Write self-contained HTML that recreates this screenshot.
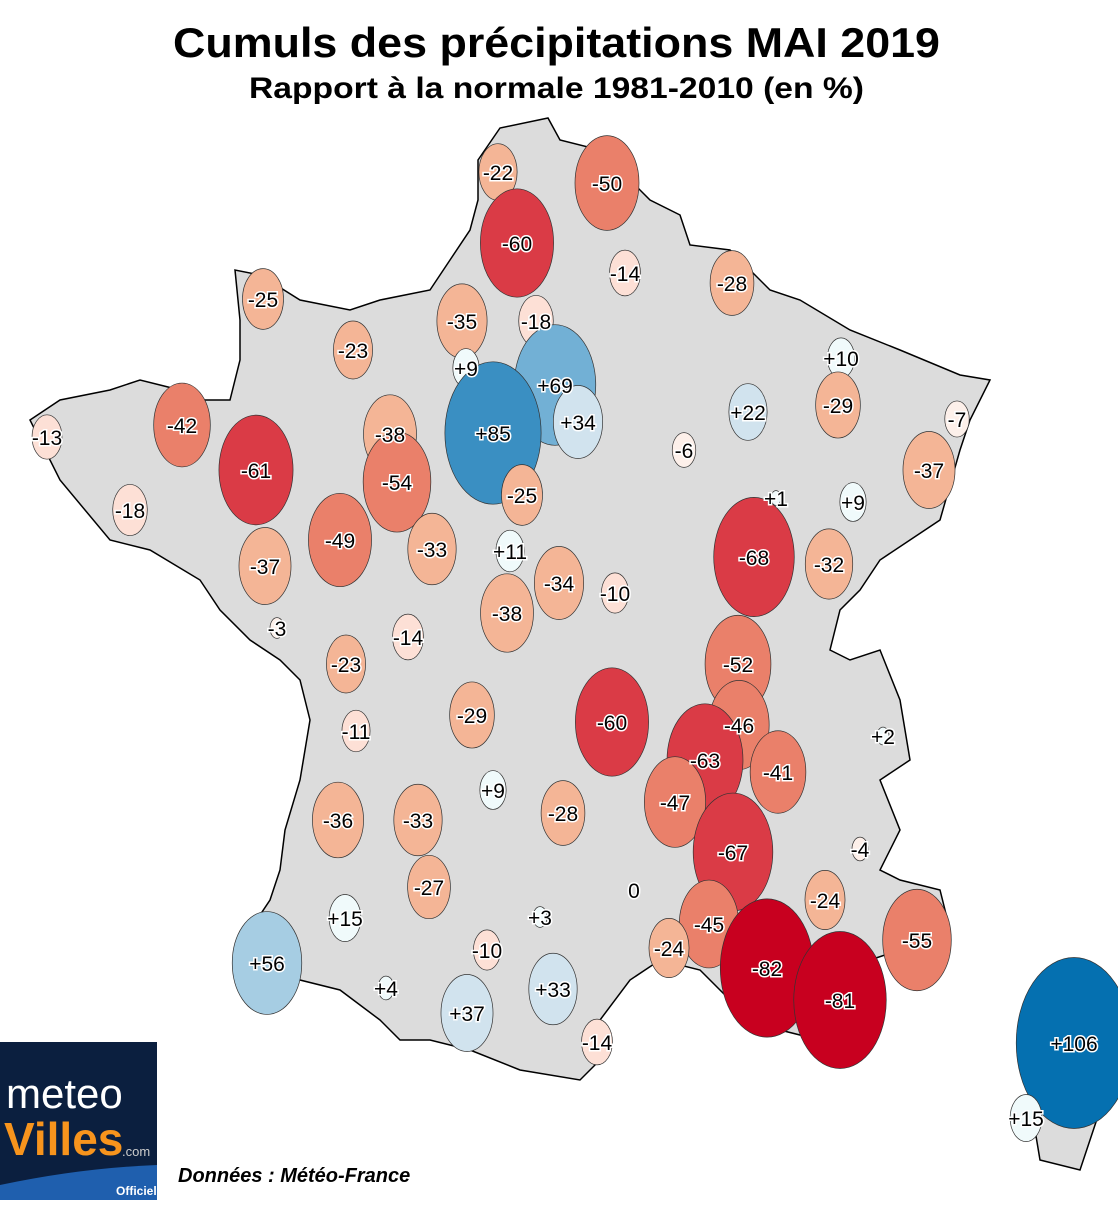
<!DOCTYPE html>
<html><head><meta charset="utf-8"><style>
body{margin:0;background:#fff;width:1118px;height:1200px;overflow:hidden}
svg text{font-family:"Liberation Sans",sans-serif}
</style></head><body>
<svg width="1118" height="1200" viewBox="0 0 1118 1200">
<text x="173" y="57" textLength="767" lengthAdjust="spacingAndGlyphs" font-size="42" font-weight="bold">Cumuls des précipitations MAI 2019</text>
<text x="249" y="98" textLength="615" lengthAdjust="spacingAndGlyphs" font-size="30" font-weight="bold">Rapport à la normale 1981-2010 (en %)</text>
<polygon fill="#dcdcdc" stroke="#000" stroke-width="1.5" points="478,160 500,128 548,118 560,140 600,150 650,200 680,215 690,245 730,250 770,290 800,300 850,330 900,350 960,375 990,380 970,420 960,450 940,520 910,540 880,560 860,590 840,610 830,650 850,660 880,650 900,700 910,760 880,780 900,830 880,870 900,880 940,890 950,930 900,950 870,960 860,1000 820,1040 780,1030 740,1010 700,970 660,960 630,980 600,1020 600,1060 580,1080 520,1070 470,1050 430,1040 400,1040 380,1020 340,990 300,980 270,960 250,930 270,900 280,870 285,830 300,780 310,720 300,680 280,660 250,640 220,610 200,580 150,550 110,540 60,480 40,440 30,420 60,400 110,390 140,380 180,390 200,400 230,400 240,360 240,320 235,270 260,275 300,300 350,310 380,300 430,290 450,260 470,230 478,200"/>
<polygon fill="#dcdcdc" stroke="#000" stroke-width="1.5" points="1040,990 1090,970 1110,1000 1110,1080 1080,1170 1040,1160 1030,1100 1020,1060"/>
<g id="bubbles"></g>
<g>
<rect x="0" y="1042" width="157" height="158" fill="#0b1f3f"/>
<path d="M0,1185 Q80,1168 157,1165 L157,1200 L0,1200 Z" fill="#1f5fae"/>
<text x="6" y="1108" font-size="42" fill="#fff" font-family="'DejaVu Sans',sans-serif" font-weight="300">meteo</text>
<text x="4" y="1155" font-size="46" fill="#f7941d" font-family="'DejaVu Sans',sans-serif" font-weight="bold">Villes</text>
<text x="122" y="1156" font-size="13" fill="#ccc">.com</text>
<text x="116" y="1195" font-size="12" fill="#fff" font-weight="bold">Officiel</text>
</g>
<text x="178" y="1182" font-size="20" font-weight="bold" font-style="italic">Données : Météo-France</text>
</svg>
<script>
const values=[-22,-50,-60,-14,-28,-25,-35,-18,-23,9,69,10,-42,-38,85,34,22,-29,-7,-13,-61,-54,-25,-6,-37,-18,-49,-33,11,1,9,-68,-32,-37,-34,-10,-38,-3,-14,-23,-52,-29,-60,-46,-11,-63,-41,2,9,-36,-33,-28,-47,-67,-4,-27,0,-24,15,3,-45,-24,-10,-55,-82,-81,56,4,37,33,-14,106,15];
const mapX=[498,607,517,625,732,263,462,536,353,466,555,841,182,390,493,578,748,838,957,47,256,397,522,684,929,130,340,432,510,776,853,754,829,265,559,615,507,277,408,346,738,472,612,739,356,705,778,883,493,338,418,563,675,733,860,429,634,825,345,540,709,669,487,917,767,840,267,386,467,553,597,1074,1026];
const mapY=[172,183,243,273,283,299,321,321,350,368,385,358,425,434,433,422,412,405,419,437,470,482,495,450,470,510,540,549,551,498,502,557,564,566,583,593,613,628,637,664,664,715,722,725,731,760,772,736,790,820,820,813,802,852,849,887,890,900,918,917,924,948,950,940,968,1000,963,988,1013,989,1042,1043,1118];
function color(v){
 if(v<=-75)return '#c8001f';
 if(v<=-56)return '#da3b46';
 if(v<=-40)return '#ea806a';
 if(v<=-20)return '#f4b596';
 if(v<=-10)return '#fde0d6';
 if(v<0)return '#fdf0ea';
 if(v<=15)return '#f0fafb';
 if(v<=40)return '#d1e3ee';
 if(v<=60)return '#a6cde3';
 if(v<=75)return '#72b0d5';
 if(v<=95)return '#3a8fc2';
 return '#0570b0';
}
const g=document.getElementById('bubbles');
const NS='http://www.w3.org/2000/svg';
values.forEach((v,i)=>{
 const a=Math.abs(v);
 const rx=(a<6?4+a:9+0.46*a), ry=rx*1.48;
 if(v!==0){
  const e=document.createElementNS(NS,'ellipse');
  
  
  e.setAttribute('cx',mapX[i]);e.setAttribute('cy',mapY[i]);
  e.setAttribute('rx',rx);e.setAttribute('ry',ry);
  e.setAttribute('fill',color(v));e.setAttribute('stroke','#333');e.setAttribute('stroke-width','0.7');
  g.appendChild(e);
 }
});
values.forEach((v,i)=>{
 const t=document.createElementNS(NS,'text');
 
 
 t.setAttribute('x',mapX[i]);t.setAttribute('y',mapY[i]+8);
 t.setAttribute('text-anchor','middle');t.setAttribute('font-size','21');
 t.setAttribute('stroke','#fff');t.setAttribute('stroke-width','3');t.setAttribute('paint-order','stroke');
 t.textContent=v>0?'+'+v:String(v);
 g.appendChild(t);
});
</script>
</body></html>
